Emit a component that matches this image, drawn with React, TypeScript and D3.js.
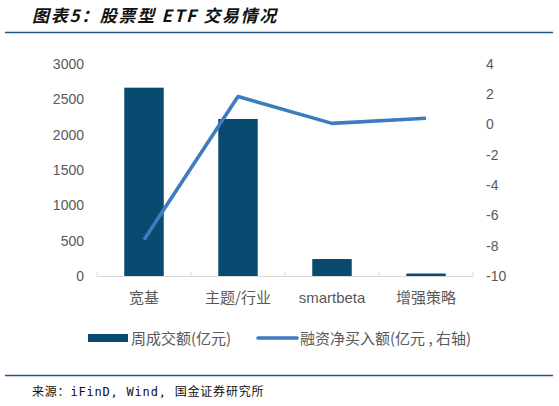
import * as d3 from 'd3'

const categories = ['宽基', '主题/行业', 'smartbeta', '增强策略']
const weeklyTurnover = [2665, 2222, 240, 35]
const marginNetBuy = [-7.6, 1.85, 0.08, 0.42]
const leftTicks = [0, 500, 1000, 1500, 2000, 2500, 3000]
const rightTicks = [-10, -8, -6, -4, -2, 0, 2, 4]

const W = 559
const H = 406
const plot = { left: 97, right: 473, top: 64, bottom: 276 }

const BAR = '#094a70'
const LINE = '#3d7cc0'
const TEXT = '#595959'
const LATIN = "'Liberation Sans', Arial, 'Noto Sans CJK SC', sans-serif"
const CJK = "'Noto Sans CJK SC', 'Liberation Sans', sans-serif"

export default function App() {
  const x = d3.scaleBand<string>().domain(categories).range([plot.left, plot.right]).paddingInner(0).paddingOuter(0)
  const yL = d3.scaleLinear().domain([0, 3000]).range([plot.bottom, plot.top])
  const yR = d3.scaleLinear().domain([-10, 4]).range([plot.bottom, plot.top])
  const barW = x.bandwidth() * 0.42
  const cx = (c: string) => (x(c) ?? 0) + x.bandwidth() / 2

  const line = d3.line<number>()
    .x((_, i) => cx(categories[i]))
    .y(d => yR(d))

  const boundaries = [...categories.map(c => x(c) ?? 0), plot.right]

  return (
    <svg width={W} height={H} style={{ position: 'absolute', left: 0, top: 0, background: '#fff' }}>
      {/* title */}
      <text x={32} y={22} fontSize={17} fontWeight="bold" fontStyle="italic" fill="#111"
        letterSpacing={1.7} fontFamily={CJK}>图表5：股票型 ETF 交易情况</text>
      <line x1={5} x2={553} y1={32.5} y2={32.5} stroke="#23557f" strokeWidth={1.5} />

      {/* left axis labels */}
      {leftTicks.map(t => (
        <text key={'l' + t} x={84} y={yL(t)} dy="0.35em" textAnchor="end" fontSize={14}
          fill={TEXT} fontFamily={LATIN}>{t}</text>
      ))}
      {/* right axis labels */}
      {rightTicks.map(t => (
        <text key={'r' + t} x={486} y={yR(t)} dy="0.35em" textAnchor="start" fontSize={14}
          fill={TEXT} fontFamily={LATIN}>{t}</text>
      ))}

      {/* bars */}
      {categories.map((c, i) => (
        <rect key={c} x={cx(c) - barW / 2} y={yL(weeklyTurnover[i])} width={barW}
          height={yL(0) - yL(weeklyTurnover[i])} fill={BAR} />
      ))}

      {/* x axis */}
      <line x1={plot.left} x2={plot.right} y1={plot.bottom + 0.5} y2={plot.bottom + 0.5} stroke="#d9d9d9" strokeWidth={1} />
      {boundaries.map((b, i) => (
        <line key={'t' + i} x1={b} x2={b} y1={plot.bottom - 4} y2={plot.bottom} stroke="#d9d9d9" strokeWidth={1} />
      ))}
      {categories.map(c => (
        <text key={'x' + c} x={cx(c)} y={298} dy="0.35em" textAnchor="middle" fontSize={15}
          fill={TEXT} fontFamily={c === 'smartbeta' ? LATIN : CJK}>{c}</text>
      ))}

      {/* line */}
      <path d={line(marginNetBuy) ?? ''} fill="none" stroke={LINE} strokeWidth={3.6} strokeLinejoin="round" />

      {/* legend */}
      <rect x={88} y={334} width={40} height={8} fill={BAR} />
      <text x={131} y={339} dy="0.35em" fontSize={15} fill={TEXT} fontFamily={CJK}>周成交额(亿元)</text>
      <line x1={258} x2={297} y1={338} y2={338} stroke={LINE} strokeWidth={3.6} strokeLinecap="round" />
      <text x={300} y={339} dy="0.35em" fontSize={15} fill={TEXT} fontFamily={CJK}>融资净买入额(亿元 , 右轴)</text>

      {/* footer */}
      <line x1={5} x2={553} y1={375.5} y2={375.5} stroke="#23557f" strokeWidth={1.5} />
      <text x={32} y={392} dy="0.35em" fontSize={12} fill="#111" letterSpacing={0.8}
        fontFamily="'DejaVu Sans Mono', 'Noto Sans CJK SC', monospace">来源：iFinD, Wind, 国金证券研究所</text>
    </svg>
  )
}
